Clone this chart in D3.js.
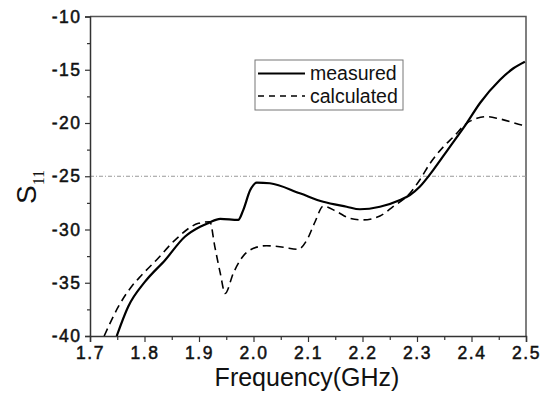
<!DOCTYPE html>
<html>
<head>
<meta charset="utf-8">
<script src="https://cdn.jsdelivr.net/npm/d3@7"></script>
<style>
  body { margin: 0; background: #fff; }
  text { font-family: "Liberation Sans", Arial, sans-serif; }
</style>
</head>
<body>
<svg width="549" height="394"></svg>
<script>
// values
const measuredFreq = [1.749, 1.770, 1.801, 1.838, 1.874, 1.902, 1.917, 1.939, 1.972, 1.981, 1.994, 2.006, 2.030, 2.085, 2.128, 2.171, 2.195, 2.232, 2.269, 2.287, 2.305, 2.330, 2.358, 2.391, 2.416, 2.452, 2.477, 2.498];
const measuredS11  = [-40, -37.25, -34.9, -32.86, -30.68, -29.74, -29.4, -29.0, -29.1, -28.2, -26.3, -25.6, -25.66, -26.6, -27.4, -27.86, -28.1, -27.86, -27.23, -26.76, -25.98, -24.4, -22.4, -20.03, -18.1, -15.96, -14.86, -14.24];

const calcFreq = [1.726, 1.752, 1.776, 1.795, 1.822, 1.856, 1.899, 1.920, 1.929, 1.939, 1.948, 1.963, 1.978, 2.000, 2.024, 2.055, 2.082, 2.098, 2.113, 2.128, 2.153, 2.177, 2.201, 2.232, 2.256, 2.287, 2.305, 2.324, 2.349, 2.367, 2.391, 2.410, 2.428, 2.452, 2.492, 2.5];
const calcS11  = [-40, -37.25, -35.37, -34.27, -32.86, -30.99, -29.42, -29.27, -31.6, -34.1, -36.0, -34.1, -32.7, -31.77, -31.52, -31.67, -31.86, -30.99, -29.27, -27.8, -28.33, -28.95, -29.1, -28.73, -27.86, -26.6, -25.35, -23.78, -22.2, -21.29, -20.03, -19.56, -19.4, -19.62, -20.19, -20.3];

const xTicks = [1.7, 1.8, 1.9, 2.0, 2.1, 2.2, 2.3, 2.4, 2.5];
const yTicks = [-40, -35, -30, -25, -20, -15, -10];
const refLevel = -25;
const legendNames = ["measured", "calculated"];

const svg = d3.select("svg");
const mLeft = 90, mRight = 526, mTop = 16.5, mBottom = 336;

const x = d3.scaleLinear().domain([1.7, 2.5]).range([mLeft, mRight]);
const y = d3.scaleLinear().domain([-40, -10]).range([mBottom, mTop]);

const measured = measuredFreq.map((f, i) => [f, measuredS11[i]]);
const calculated = calcFreq.map((f, i) => [f, calcS11[i]]);

// clip the curves to the plot box
svg.append("clipPath").attr("id", "box")
  .append("rect").attr("x", mLeft).attr("y", mTop)
  .attr("width", mRight - mLeft).attr("height", mBottom - mTop);

// frame (top & right)
svg.append("path")
  .attr("d", "M" + mLeft + "," + mTop + "H" + mRight + "V" + mBottom)
  .attr("fill", "none").attr("stroke", "#555").attr("stroke-width", 1.5);

// -25 dB reference line
svg.append("line")
  .attr("x1", mLeft).attr("x2", mRight)
  .attr("y1", y(refLevel)).attr("y2", y(refLevel))
  .attr("stroke", "#999").attr("stroke-width", 1)
  .attr("stroke-dasharray", "4,2,1,2");

// minor ticks
const xMinor = d3.range(1.75, 2.5, 0.1);
const yMinor = d3.range(-37.5, -10, 5);

const xAxis = svg.append("g")
  .attr("transform", "translate(0," + mBottom + ")")
  .call(d3.axisBottom(x).tickValues(xTicks).tickFormat(d3.format(".1f")).tickSize(6).tickPadding(4));
svg.append("g")
  .attr("transform", "translate(0," + mBottom + ")")
  .call(d3.axisBottom(x).tickValues(xMinor).tickFormat("").tickSize(4))
  .select(".domain").remove();

const yAxis = svg.append("g")
  .attr("transform", "translate(" + mLeft + ",0)")
  .call(d3.axisLeft(y).tickValues(yTicks).tickFormat(d => d).tickSize(5).tickPadding(3.5));
svg.append("g")
  .attr("transform", "translate(" + mLeft + ",0)")
  .call(d3.axisLeft(y).tickValues(yMinor).tickFormat("").tickSize(3))
  .select(".domain").remove();

svg.selectAll(".domain").attr("stroke", "#333").attr("stroke-width", 1.5);
svg.selectAll(".tick line").attr("stroke", "#333").attr("stroke-width", 1.2);
svg.selectAll(".tick text")
  .attr("font-family", "Liberation Sans, Arial, sans-serif")
  .attr("font-size", 17.5).attr("fill", "#111")
  .attr("stroke", "#111").attr("stroke-width", 0.5)
  .attr("letter-spacing", 1.5);
xAxis.selectAll(".tick text").attr("dy", "0.75em");

// curves
const line = d3.line().x(d => x(d[0])).y(d => y(d[1])).curve(d3.curveMonotoneX);

svg.append("path").datum(measured)
  .attr("clip-path", "url(#box)")
  .attr("fill", "none").attr("stroke", "#000").attr("stroke-width", 2.2)
  .attr("d", line);

svg.append("path").datum(calculated)
  .attr("clip-path", "url(#box)")
  .attr("fill", "none").attr("stroke", "#000").attr("stroke-width", 1.6)
  .attr("stroke-dasharray", "8,5")
  .attr("d", line);

// legend
const lg = svg.append("g");
lg.append("rect").attr("x", 255).attr("y", 60).attr("width", 148).attr("height", 50)
  .attr("fill", "#fff").attr("stroke", "#777").attr("stroke-width", 1);
legendNames.forEach((name, i) => {
  const ly = 73.5 + i * 22.5;
  lg.append("line").attr("x1", 258).attr("x2", 305).attr("y1", ly).attr("y2", ly)
    .attr("stroke", "#000").attr("stroke-width", i ? 1.6 : 2)
    .attr("stroke-dasharray", i ? "6,5" : null);
  lg.append("text").attr("x", 310).attr("y", ly + 6.5)
    .attr("font-size", 19.5).attr("fill", "#111").text(name);
});

// axis titles
svg.append("text")
  .attr("x", 307).attr("y", 385.5)
  .attr("text-anchor", "middle")
  .attr("font-size", 25).attr("fill", "#111")
  .text("Frequency(GHz)");

const yt = svg.append("text")
  .attr("transform", "translate(36,204) rotate(-90)")
  .attr("fill", "#111");
yt.append("tspan").attr("font-size", 28).text("S");
yt.append("tspan").attr("font-size", 16).attr("dy", 8)
  .attr("font-family", "Liberation Serif, Times New Roman, serif")
  .text("11");
</script>
</body>
</html>
